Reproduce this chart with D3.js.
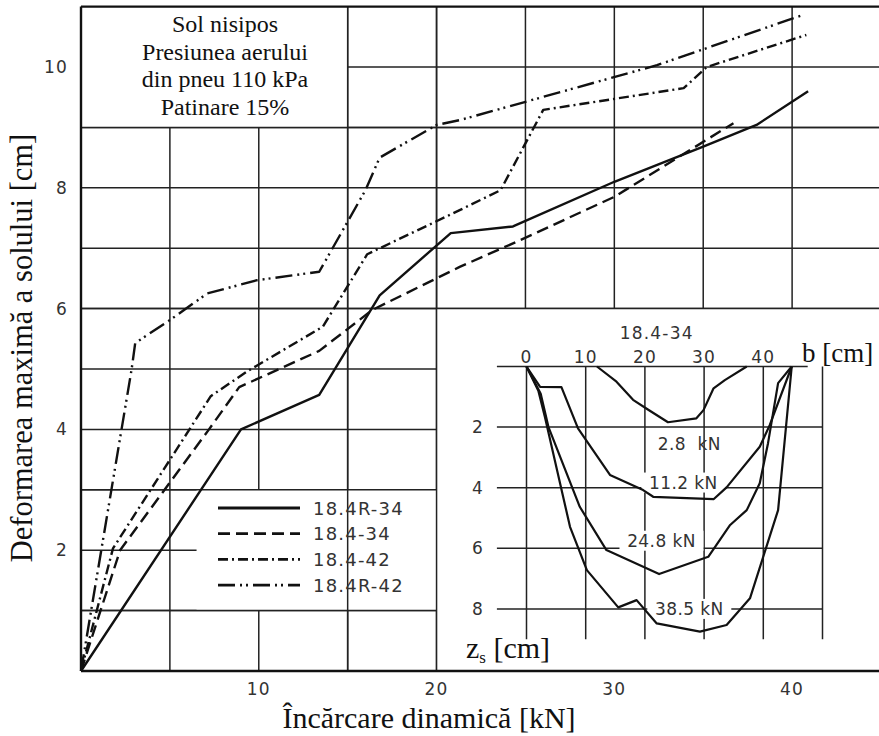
<!DOCTYPE html>
<html>
<head>
<meta charset="utf-8">
<script src="https://cdn.jsdelivr.net/npm/d3@7/dist/d3.min.js"></script>
<style>
body{margin:0;background:#fff;}
svg{display:block;}
.tech{font-family:"DejaVu Sans",sans-serif;font-size:17px;fill:#333;letter-spacing:1.2px;}
.serif{font-family:"Liberation Serif","DejaVu Serif",serif;fill:#111;}
</style>
</head>
<body>
<svg id="svg_canvas" width="879" height="736"></svg>
<script>

// main chart: dynamic load [kN] -> max soil deformation [cm]
var series_names=["18.4R-34","18.4-34","18.4-42","18.4R-42"];

var load_18_4R_34=[0,9,13.4,16.8,20.8,24.3,30,35,38,40.9];
var def_18_4R_34 =[0,4,4.57,6.22,7.25,7.36,8.1,8.68,9.04,9.6];

var load_18_4_34=[0,2.2,7.2,8.9,13.4,16.4,21.3,24.3,30,36.7];
var def_18_4_34 =[0,2.0,4.0,4.7,5.3,5.98,6.69,7.08,7.85,9.07];

var load_18_4_42=[0,1.8,7.3,9.4,13.6,16.1,21.3,23.6,26,33.9,35.2,40.8];
var def_18_4_42 =[0,2.03,4.55,4.97,5.7,6.9,7.63,7.96,9.29,9.65,10.0,10.53];

var load_18_4R_42=[0,2.85,3.05,5,7.1,9.9,13.4,16,16.8,20,21.3,32.4,40.6];
var def_18_4R_42 =[0,5.0,5.43,5.81,6.25,6.47,6.61,7.96,8.5,9.04,9.12,10.03,10.86];

var x_ticks=[10,20,30,40];
var y_ticks=[2,4,6,8,10];

var note_lines=["Sol nisipos","Presiunea aerului","din pneu 110 kPa","Patinare 15%"];

// inset: ground profile under tyre 18.4-34, width b [cm] vs depth zs [cm]
var inset_title="18.4-34";
var profile_labels=["2.8  kN","11.2 kN","24.8 kN","38.5 kN"];

var b_2_8=[11.9,15.2,18,20.5,23.9,28.7,29.9,31.6,33.5,37.2];
var z_2_8=[0,0.5,1.1,1.42,1.84,1.71,1.44,0.72,0.45,0];

var b_11_2=[0,2.3,5.9,8.7,14.1,19.7,21.4,31.6,33.8,39.4,41.1,44.8];
var z_11_2=[0,0.67,0.68,2.04,3.58,4.08,4.3,4.38,3.99,2.65,1.93,0];

var b_24_8=[0,2.4,3.7,9.0,13.5,22.4,30.7,34.4,37.2,39.4,40.8,42.5,44.8];
var z_24_8=[0,0.9,1.99,4.63,6.06,6.85,6.28,5.23,4.74,3.85,2.53,0.55,0];

var b_38_5=[0,2.0,3.1,7.35,10.2,15.5,18.6,22,29.3,33.8,37.75,42.5,44.8];
var z_38_5=[0,0.8,1.66,5.29,6.72,7.95,7.71,8.48,8.75,8.53,7.65,4.74,0];

var b_ticks=[0,10,20,30,40];
var z_ticks=[2,4,6,8];


function start(){

	var svg=d3.select("#svg_canvas");

	var x=d3.scaleLinear().domain([0,45]).range([81,881]);
	var y=d3.scaleLinear().domain([0,11]).range([671,6.6]);

	draw_grid(svg,x,y);
	draw_curves(svg,x,y);
	draw_legend(svg,x,y);
	draw_labels(svg,x,y);
	draw_inset(svg);
}


function draw_grid(svg,x,y){

	var grid=svg.append("g").attr("stroke","#222").attr("stroke-width",1.5);

	grid.selectAll(".vgrid").data(d3.range(5,45,5)).enter().append("line")
		.attr("x1",function(d){return x(d);})
		.attr("x2",function(d){return x(d);})
		.attr("y1",y(11)).attr("y2",y(0));

	grid.selectAll(".hgrid").data(d3.range(1,11)).enter().append("line")
		.attr("x1",x(0)).attr("x2",879)
		.attr("y1",function(d){return y(d);})
		.attr("y2",function(d){return y(d);});

	//white boxes: note, legend, inset
	var boxes=[[0,15,11,9],[6.5,20,3,1],[20,45,6,0]];
	svg.selectAll(".mask").data(boxes).enter().append("rect")
		.attr("fill","#fff")
		.attr("x",function(d){return x(d[0]);})
		.attr("width",function(d){return x(d[1])-x(d[0]);})
		.attr("y",function(d){return y(d[2]);})
		.attr("height",function(d){return y(d[3])-y(d[2]);});

	//box borders are grid lines again
	var edges=svg.append("g").attr("stroke","#222").attr("stroke-width",1.5);
	[[0,45,9],[0,45,6],[0,20,3],[0,20,1]].forEach(function(h){
		edges.append("line").attr("x1",x(h[0])).attr("x2",Math.min(x(h[1]),879))
			.attr("y1",y(h[2])).attr("y2",y(h[2]));
	});
	[15,20].forEach(function(v){
		edges.append("line").attr("x1",x(v)).attr("x2",x(v)).attr("y1",y(11)).attr("y2",y(0));
	});

	//frame: left, top, bottom
	var frame=svg.append("g").attr("stroke","#111").attr("stroke-width",2.4);
	frame.append("line").attr("x1",x(0)).attr("x2",x(0)).attr("y1",y(11)).attr("y2",y(0));
	frame.append("line").attr("x1",x(0)).attr("x2",879).attr("y1",y(11)).attr("y2",y(11));
	frame.append("line").attr("x1",x(0)).attr("x2",879).attr("y1",y(0)).attr("y2",y(0));
}


var dash_styles=["none","12,6","10,4,2,4","17,5,2,4,2,5"];

function draw_curves(svg,x,y){

	var series=[
		d3.zip(load_18_4R_34,def_18_4R_34),
		d3.zip(load_18_4_34,def_18_4_34),
		d3.zip(load_18_4_42,def_18_4_42),
		d3.zip(load_18_4R_42,def_18_4R_42)
	];

	var line=d3.line().x(function(d){return x(d[0]);}).y(function(d){return y(d[1]);});

	svg.append("g").selectAll("path").data(series).enter().append("path")
		.attr("d",line)
		.attr("fill","none")
		.attr("stroke","#111")
		.attr("stroke-width",2.4)
		.attr("stroke-linejoin","round")
		.attr("stroke-dasharray",function(d,i){return dash_styles[i];});
}


function draw_legend(svg,x,y){

	var left_x=218;
	var top_y=508;
	var v_scale=25.7;

	var g=svg.append("g");
	var rows=g.selectAll("g").data(series_names).enter().append("g");

	rows.append("line")
		.attr("x1",left_x).attr("x2",left_x+82)
		.attr("y1",function(d,i){return top_y+i*v_scale;})
		.attr("y2",function(d,i){return top_y+i*v_scale;})
		.attr("stroke","#111")
		.attr("stroke-width",2.8)
		.attr("stroke-dasharray",function(d,i){return dash_styles[i];});

	rows.append("text")
		.attr("class","tech")
		.attr("x",left_x+95)
		.attr("y",function(d,i){return top_y+i*v_scale+6.5;})
		.style("font-size","18px")
		.text(function(d){return d;});
}


function draw_labels(svg,x,y){

	svg.selectAll(".xtick").data(x_ticks).enter().append("text")
		.attr("class","tech")
		.attr("text-anchor","middle")
		.attr("x",function(d){return x(d);})
		.attr("y",695)
		.text(function(d){return d;});

	svg.selectAll(".ytick").data(y_ticks).enter().append("text")
		.attr("class","tech")
		.attr("text-anchor","end")
		.attr("x",68)
		.attr("y",function(d){return y(d)+6;})
		.text(function(d){return d;});

	svg.append("text")
		.attr("class","serif")
		.attr("text-anchor","middle")
		.attr("x",429).attr("y",728)
		.style("font-size","30px")
		.text("Încărcare dinamică [kN]");

	svg.append("text")
		.attr("class","serif")
		.attr("text-anchor","middle")
		.attr("transform","translate(32,348) rotate(-90)")
		.style("font-size","30.5px")
		.text("Deformarea maximă a solului [cm]");

	svg.selectAll(".note").data(note_lines).enter().append("text")
		.attr("class","serif")
		.attr("text-anchor","middle")
		.attr("x",225)
		.attr("y",function(d,i){return 32+i*27.7;})
		.style("font-size","24px")
		.text(function(d){return d;});
}


function draw_inset(svg){

	var b=d3.scaleLinear().domain([0,50]).range([526.5,822.5]);
	var z=d3.scaleLinear().domain([0,9]).range([366.5,639.2]);

	var g=svg.append("g");
	var grid=g.append("g").attr("stroke","#222").attr("stroke-width",1.5);

	grid.selectAll(".ih").data([0].concat(z_ticks)).enter().append("line")
		.attr("x1",b(-5))
		.attr("x2",function(d){return d==0 ? b(47.5) : b(50);})
		.attr("y1",function(d){return z(d);})
		.attr("y2",function(d){return z(d);});

	grid.selectAll(".iv").data(b_ticks.concat([50])).enter().append("line")
		.attr("x1",function(d){return b(d);})
		.attr("x2",function(d){return b(d);})
		.attr("y1",z(0)).attr("y2",z(9));

	var profiles=[
		d3.zip(b_2_8,z_2_8),
		d3.zip(b_11_2,z_11_2),
		d3.zip(b_24_8,z_24_8),
		d3.zip(b_38_5,z_38_5)
	];

	//label anchors (b, z) for each load
	var label_pos=[[27.5,2.55],[26.5,3.83],[22.8,5.75],[27.5,8.0]];

	g.selectAll(".lbg").data(profiles).enter().append("rect")
		.attr("fill","#fff")
		.attr("x",function(d,i){return b(label_pos[i][0])-42;})
		.attr("width",function(d,i){return i==0 ? 0 : 84;})
		.attr("y",function(d,i){return z(label_pos[i][1])-10;})
		.attr("height",20);

	var line=d3.line().x(function(d){return b(d[0]);}).y(function(d){return z(d[1]);});

	g.selectAll("path").data(profiles).enter().append("path")
		.attr("d",line)
		.attr("fill","none")
		.attr("stroke","#111")
		.attr("stroke-width",2.2)
		.attr("stroke-linejoin","round");

	g.selectAll(".plabel").data(profile_labels).enter().append("text")
		.attr("class","tech")
		.attr("text-anchor","middle")
		.attr("x",function(d,i){return b(label_pos[i][0]);})
		.attr("y",function(d,i){return z(label_pos[i][1])+6;})
		.style("letter-spacing","0.4px")
		.style("white-space","pre")
		.attr("xml:space","preserve")
		.text(function(d){return d;});

	g.selectAll(".btick").data(b_ticks).enter().append("text")
		.attr("class","tech")
		.attr("text-anchor","middle")
		.attr("x",function(d){return b(d);})
		.attr("y",z(0)-4)
		.text(function(d){return d;});

	g.selectAll(".ztick").data(z_ticks).enter().append("text")
		.attr("class","tech")
		.attr("text-anchor","middle")
		.attr("x",478)
		.attr("y",function(d){return z(d)+6;})
		.text(function(d){return d;});

	g.append("text")
		.attr("class","tech")
		.attr("text-anchor","middle")
		.attr("x",b(22))
		.attr("y",339)
		.text(inset_title);

	g.append("text")
		.attr("class","serif")
		.attr("x",802).attr("y",362)
		.style("font-size","27px")
		.text("b [cm]");

	var zs=g.append("text")
		.attr("class","serif")
		.attr("x",466).attr("y",658)
		.style("font-size","30px");
	zs.append("tspan").text("z");
	zs.append("tspan").attr("dy",5).style("font-size","17px").text("s");
	zs.append("tspan").attr("dy",-5).text(" [cm]");
}

start();

</script>
</body>
</html>
